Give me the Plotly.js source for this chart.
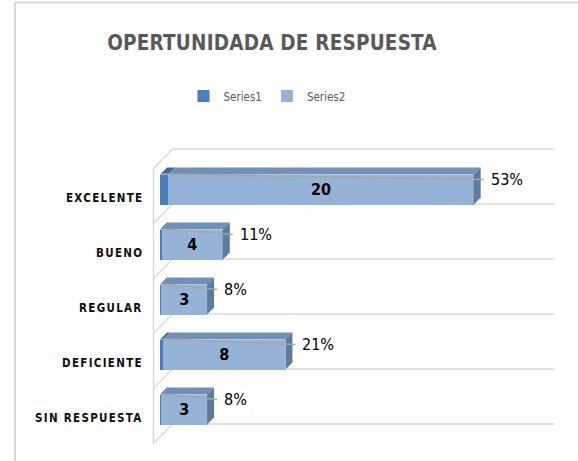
<!DOCTYPE html>
<html><head><meta charset="utf-8">
<script src="https://cdn.plot.ly/plotly-3.0.1.min.js"></script>
<style>html,body{margin:0;padding:0;background:#fff}#chart{width:578px;height:461px}</style>
</head><body><div id="chart"></div>
<script>
const categories = ['EXCELENTE', 'BUENO', 'REGULAR', 'DEFICIENTE', 'SIN RESPUESTA'];
const series1 = [0.53, 0.11, 0.08, 0.21, 0.08];
const series2 = [20, 4, 3, 8, 3];
const seriesNames = ['Series1', 'Series2'];
const titleText = 'OPERTUNIDADA DE RESPUESTA';

const W = 578, H = 461, M = {l: 160, r: 36, t: 162, b: 24};
const PW = W - M.l - M.r, PH = H - M.t - M.b;
const XMAX = 25;
const pxPerUnit = PW / XMAX;
const DEPTH = 7;
const dU = DEPTH / pxPerUnit;
const HALF = 15;
const FONT = '"Liberation Sans Narrow", "DejaVu Sans Condensed", sans-serif';
const idx = categories.map((_, i) => i);
const totals = series1.map((v, i) => v + series2[i]);
const catH = PH / categories.length;

const traces = [
  {type: 'bar', orientation: 'h', name: seriesNames[0], y: categories, x: series1,
   marker: {color: '#4A7EBB'}, hoverinfo: 'skip'},
  {type: 'bar', orientation: 'h', name: seriesNames[1], y: categories, x: series2,
   marker: {color: '#95B3D7'}, text: series2.map(String), texttemplate: '<b>%{text}</b>',
   textposition: 'inside', insidetextanchor: 'middle', textangle: 0,
   textfont: {family: FONT, size: 16, color: '#000'}, hoverinfo: 'skip'}
];

const shapes = [];
const wallC = '#D9D9D9';
// chart border
shapes.push({type: 'line', xref: 'paper', yref: 'paper', xsizemode: 'pixel', ysizemode: 'pixel',
  xanchor: 0, yanchor: 1, x0: -(M.l - 15), x1: -(M.l - 15), y0: M.t - 2, y1: -(PH + M.b),
  line: {color: wallC, width: 2}, layer: 'below'});
shapes.push({type: 'line', xref: 'paper', yref: 'paper', xsizemode: 'pixel', ysizemode: 'pixel',
  xanchor: 0, yanchor: 1, x0: -(M.l - 15), x1: PW + M.r, y0: M.t - 2.5, y1: M.t - 2.5,
  line: {color: wallC, width: 2}, layer: 'below'});
// walls
const FX = -6.5, FY = -6.5, BX = 12.5, BY = 13;
for (let k = 0; k <= categories.length; k++) {
  const ya = 1 - k / categories.length;
  shapes.push({type: 'line', xref: 'paper', yref: 'paper', xsizemode: 'pixel', ysizemode: 'pixel',
    xanchor: 0, yanchor: ya, x0: FX, y0: FY, x1: BX, y1: BY, line: {color: wallC, width: 1.5}, layer: 'below'});
  shapes.push({type: 'line', xref: 'paper', yref: 'paper', xsizemode: 'pixel', ysizemode: 'pixel',
    xanchor: 0, yanchor: ya, x0: BX, y0: BY, x1: PW + BX, y1: BY, line: {color: wallC, width: 1.5}, layer: 'below'});
}
shapes.push({type: 'line', xref: 'paper', yref: 'paper', xsizemode: 'pixel', ysizemode: 'pixel',
  xanchor: 0, yanchor: 1, x0: FX, y0: FY, x1: FX, y1: FY - PH, line: {color: wallC, width: 1.5}, layer: 'below'});

// 3D faces of bars
idx.forEach(i => {
  const p = series1[i], t = totals[i];
  const base = {type: 'path', xref: 'x', yref: 'y', ysizemode: 'pixel', yanchor: i, line: {width: 0}, layer: 'above'};
  shapes.push(Object.assign({}, base, {fillcolor: '#3C6A9F',
    path: `M 0,${HALF} L ${p},${HALF} L ${p + dU},${HALF + DEPTH} L ${dU},${HALF + DEPTH} Z`}));
  shapes.push(Object.assign({}, base, {fillcolor: '#7190B8',
    path: `M ${p},${HALF} L ${t},${HALF} L ${t + dU},${HALF + DEPTH} L ${p + dU},${HALF + DEPTH} Z`}));
  shapes.push(Object.assign({}, base, {fillcolor: '#5F7A9C',
    path: `M ${t},${HALF} L ${t + dU},${HALF + DEPTH} L ${t + dU},${-HALF + DEPTH} L ${t},${-HALF} Z`}));
  // leader line
  shapes.push({type: 'line', xref: 'x', yref: 'y', ysizemode: 'pixel', yanchor: i,
    x0: 0.15, x1: t + 10 / pxPerUnit, y0: HALF + 0.5, y1: HALF - 5,
    line: {color: '#A6A6A6', width: 1.5}, layer: 'above'});
});

const annotations = idx.map(i => ({
  x: totals[i], y: categories[i], xref: 'x', yref: 'y', xanchor: 'left', yanchor: 'middle',
  xshift: 15, yshift: 10, showarrow: false, text: Math.round(series1[i] * 100) + '%',
  font: {family: FONT, size: 16, color: '#000'}
})).concat(idx.map(i => ({
  x: 0, y: categories[i], xref: 'paper', yref: 'y', xanchor: 'right', yanchor: 'middle',
  xshift: -15, yshift: -8, showarrow: false,
  text: `<span style="letter-spacing:1.3px">${categories[i]}</span>`,
  font: {family: FONT, size: 11.5, color: '#0D0D0D', weight: 'bold'}
})));

const layout = {
  width: W, height: H, margin: M, paper_bgcolor: '#fff', plot_bgcolor: 'rgba(0,0,0,0)',
  barmode: 'stack', bargap: 1 - 2 * HALF / catH,
  title: {text: `<span style="letter-spacing:0.2px">${titleText}</span>`, xref: 'container', yref: 'container',
    x: 272 / W, xanchor: 'center', y: 1 - 43 / H, yanchor: 'middle',
    font: {family: FONT, size: 20.5, color: '#595959', weight: 'bold'}},
  showlegend: true,
  legend: {orientation: 'h', xref: 'container', yref: 'container', x: 267 / W, xanchor: 'center',
    y: 1 - 96 / H, yanchor: 'middle', font: {family: FONT, size: 11.5, color: '#595959'},
    traceorder: 'normal', itemwidth: 30},
  xaxis: {range: [0, XMAX], visible: false, fixedrange: true},
  yaxis: {type: 'category', categoryarray: categories, range: [categories.length - 0.5, -0.5],
    showticklabels: false, showgrid: false, zeroline: false, showline: false, ticks: '', fixedrange: true},
  shapes: shapes, annotations: annotations
};
Plotly.newPlot('chart', traces, layout, {displayModeBar: false, staticPlot: true});
</script></body></html>
